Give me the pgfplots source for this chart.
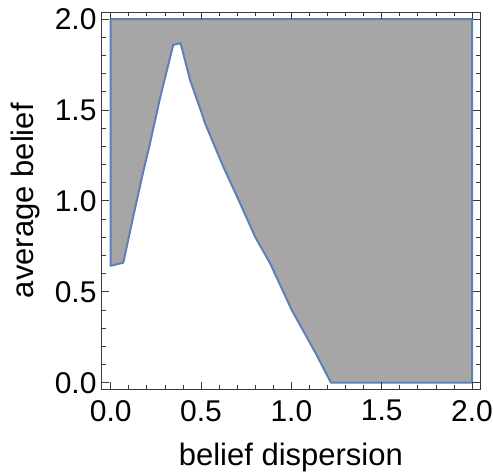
\documentclass[border=0pt]{standalone}
\usepackage{pgfplots}
\pgfplotsset{compat=1.18}
\usepackage{fontspec}
\setmainfont{Liberation Sans}
\definecolor{mmablue}{rgb}{0.368,0.507,0.710}
\definecolor{regiongray}{HTML}{A6A6A6}
\definecolor{framegray}{HTML}{3A3A3A}
\begin{document}
\begin{tikzpicture}
\useasboundingbox (-101.7bp,-84bp) rectangle (391.3bp,389bp);
\begin{axis}[
  at={(0,0)}, anchor=south west,
  scale only axis,
  width=378.3bp, height=376.7bp,
  xmin=-0.0498, xmax=2.044,
  ymin=-0.0346, ymax=2.037,
  xtick={0,0.5,1,1.5,2}, ytick={0,0.5,1,1.5,2},
  minor tick num=4,
  tick align=inside,
  major tick length=7bp, minor tick length=4bp,
  axis line style={framegray, line width=0.8bp},
  every tick/.style={framegray, line width=0.8bp},
  /pgf/number format/assume math mode=true,
  /pgf/number format/.cd, fixed, fixed zerofill, precision=1, /pgfplots/.cd,
  ticklabel style={font=\fontsize{30bp}{36bp}\selectfont, inner sep=0pt},
  xticklabel style={anchor=north, yshift=-11bp},
  yticklabel style={anchor=east, xshift=-5bp},
  label style={font=\fontsize{31bp}{37bp}\selectfont, inner sep=0pt},
  xlabel={belief dispersion},
  ylabel={average belief},
  xlabel style={at={(axis description cs:0.5,-0.2018)}, anchor=base},
  ylabel style={at={(axis description cs:-0.1816,0.5)}, anchor=base},
  axis on top,
]
\addplot[fill=regiongray, draw=mmablue, line width=2bp, line join=round] coordinates {
  (0,2) (0,0.643) (0.070,0.660) (0.125,0.915) (0.180,1.160) (0.214,1.300)
  (0.273,1.565) (0.346,1.858) (0.387,1.867) (0.439,1.665) (0.504,1.482)
  (0.522,1.427) (0.623,1.188) (0.716,0.987) (0.799,0.803) (0.882,0.657)
  (1.002,0.400) (1.140,0.152) (1.219,0) (2,0) (2,2)
} -- cycle;
\end{axis}
\end{tikzpicture}
\end{document}
